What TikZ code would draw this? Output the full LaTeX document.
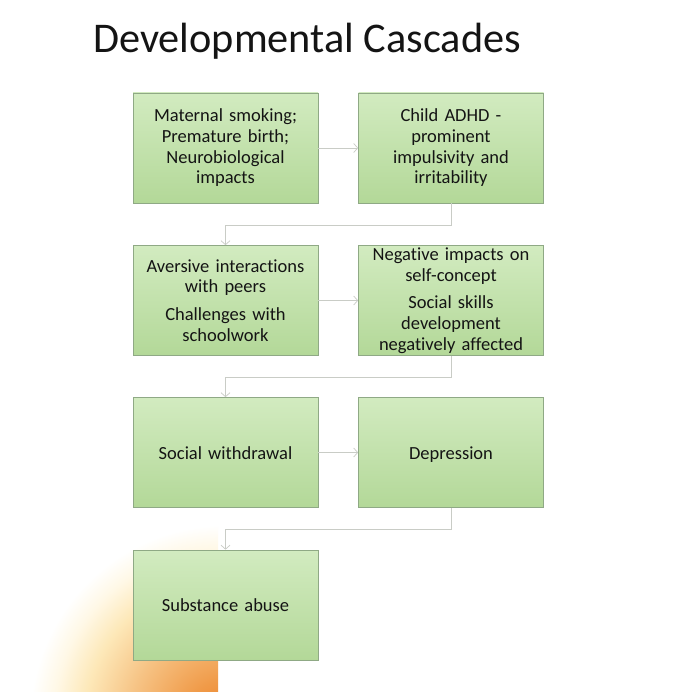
\documentclass[tikz,border=0pt]{standalone}
\usepackage{fontspec}
\setmainfont[RawFeature=-liga]{Carlito}
\usetikzlibrary{arrows.meta,calc}
\definecolor{boxtop}{HTML}{D2EBC0}
\definecolor{boxbot}{HTML}{B3D898}
\definecolor{boxline}{HTML}{8FA985}
\definecolor{conn}{HTML}{C9CCC6}
\definecolor{txt}{HTML}{141414}
\definecolor{orA}{HTML}{EC8129}
\definecolor{orB}{HTML}{F09A48}
\definecolor{orC}{HTML}{F6C283}
\definecolor{orD}{HTML}{FDE8B8}
\definecolor{orE}{HTML}{FFF8E6}
\pgfdeclareradialshading{glow}{\pgfpoint{0bp}{0bp}}{color(0bp)=(orA); color(5bp)=(orB); color(12bp)=(orC); color(18bp)=(orD); color(22bp)=(orE); color(25bp)=(white); color(50bp)=(white)}
\tikzset{
  stepbox/.style={draw=boxline, line width=0.7pt, top color=boxtop, bottom color=boxbot,
    minimum width=185pt, minimum height=110pt, inner sep=0pt, text width=180pt,
    align=center, text=txt, font=\fontsize{18.5}{20.7}\selectfont},
  oneline/.style={text height=13pt, text depth=0pt},
  conn/.style={draw=conn, line width=0.8pt, -{Straight Barb[length=4pt,width=9pt,line width=0.7pt]}}
}
\begin{document}
\begin{tikzpicture}[x=1pt,y=-1pt]
\useasboundingbox (0,0) rectangle (676,692);
\fill[white] (0,0) rectangle (676,692);
\begin{scope}
  \clip (0,500) rectangle (218,692);
  \shade[shading=glow] (225,720) circle (195);
\end{scope}
\node[anchor=base west, inner sep=0pt, text=txt, font=\fontsize{42.3}{48}\selectfont] (title) at (93,53) {Developmental Cascades};
\node[stepbox] (a) at (225.5,148) {Maternal smoking;\\Premature birth;\\Neurobiological\\impacts};
\node[stepbox] (b) at (451,148) {Child ADHD -\\prominent\\impulsivity and\\irritability};
\node[stepbox] (c) at (225.5,300.5) {Aversive interactions\\with peers\\[7pt]Challenges with\\schoolwork};
\node[stepbox] (d) at (451,300.5) {Negative impacts on\\self-concept\\[7pt]Social skills\\development\\negatively affected};
\node[stepbox, oneline] (e) at (225.5,452.5) {Social withdrawal};
\node[stepbox, oneline] (f) at (451,452.5) {Depression};
\node[stepbox, oneline] (g) at (225.5,605) {Substance abuse};
\draw[conn] (a) -- (b);
\draw[conn] (c) -- (d);
\draw[conn] (e) -- (f);
\draw[conn] (b.south) -- ++(0,22) -| (c.north);
\draw[conn] (d.south) -- ++(0,22) -| (e.north);
\draw[conn] (f.south) -- ++(0,22) -| (g.north);
\end{tikzpicture}
\end{document}
